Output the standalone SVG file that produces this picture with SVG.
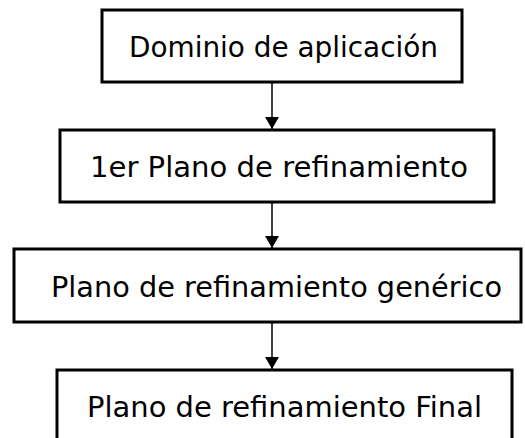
<svg xmlns="http://www.w3.org/2000/svg" width="525" height="438" viewBox="0 0 525 438">
<defs>
<style>
.box{fill:#fff;stroke:#000;stroke-width:3}
.lbl{font-family:"DejaVu Sans","Liberation Sans",sans-serif;font-size:28px;fill:#000}
.con{stroke:#000;stroke-width:1.5;fill:none;marker-end:url(#arr)}
</style>
<marker id="arr" viewBox="0 0 12 14" refX="12" refY="7" markerWidth="12" markerHeight="14" markerUnits="userSpaceOnUse" orient="auto">
<path d="M0,0 L12,7 L0,14 Z" fill="#000"/>
</marker>
</defs>
<rect width="525" height="438" fill="#fff"/>
<g id="connectors">
<line class="con" x1="272" y1="82" x2="272" y2="129"/>
<line class="con" x1="272" y1="202" x2="272" y2="248"/>
<line class="con" x1="272" y1="322" x2="272" y2="369"/>
</g>
<g id="n1"><rect class="box" x="102" y="10" width="360" height="72"/><text class="lbl" x="129" y="57" textLength="309" lengthAdjust="spacingAndGlyphs">Dominio de aplicación</text></g>
<g id="n2"><rect class="box" x="60" y="130" width="434" height="72"/><text class="lbl" x="90" y="177" textLength="378" lengthAdjust="spacingAndGlyphs">1er Plano de refinamiento</text></g>
<g id="n3"><rect class="box" x="14" y="249" width="507" height="73"/><text class="lbl" x="51" y="297" textLength="451" lengthAdjust="spacingAndGlyphs">Plano de refinamiento genérico</text></g>
<g id="n4"><rect class="box" x="57" y="370" width="455" height="80"/><text class="lbl" x="87" y="417" textLength="395" lengthAdjust="spacingAndGlyphs">Plano de refinamiento Final</text></g>
</svg>
